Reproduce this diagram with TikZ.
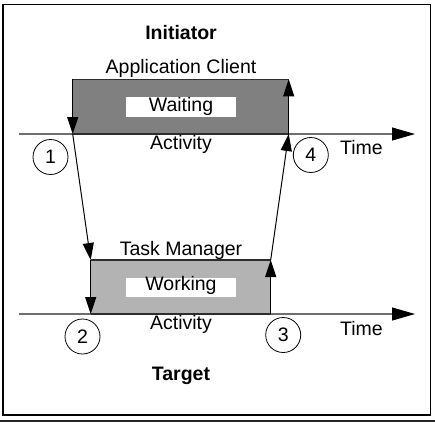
\documentclass[tikz,border=0pt]{standalone}
\usepackage{fontspec}
\setmainfont{Liberation Sans}
\usetikzlibrary{arrows.meta}
\definecolor{darkfill}{RGB}{128,128,128}
\definecolor{lightfill}{RGB}{179,179,179}
\definecolor{axisgray}{RGB}{110,110,110}
\definecolor{edgegray}{RGB}{45,45,45}
\tikzset{
  lbl/.style={inner sep=0pt, anchor=base, font=\fontsize{19.5bp}{23bp}\selectfont},
  blbl/.style={lbl, font=\fontsize{19.5bp}{23bp}\selectfont\bfseries},
  num/.style={circle, draw=black, line width=0.8bp, minimum size=35bp, inner sep=0pt, font=\fontsize{19.5bp}{23bp}\selectfont},
  flow/.style={draw=black, line width=1bp, -{Triangle[length=17bp,width=11bp]}},
  axisline/.style={draw=axisgray, line width=1.1bp, -{Triangle[length=23bp,width=13bp,color=black,fill=black]}},
  boxedge/.style={draw=edgegray, line width=1.6bp},
  whitebar/.style={fill=white, draw=none},
}
\begin{document}
\begin{tikzpicture}[x=1bp,y=-1bp]
\useasboundingbox (0,0) rectangle (435,422);
% frame
\draw[line width=1.4bp] (3,4.5) rectangle (430.5,415);
\draw[line width=2bp, draw=black!85] (0,421) -- (435,421);
% corners
\coordinate (A1) at (72.7,79.3);
\coordinate (A2) at (288.7,79.3);
\coordinate (A3) at (72.7,134);
\coordinate (A4) at (288.7,134);
\coordinate (B1) at (90.7,260);
\coordinate (B2) at (270.7,260);
\coordinate (B3) at (90.7,314);
\coordinate (B4) at (270.7,314);
\coordinate (L1) at (19,134);
\coordinate (R1) at (415,134);
\coordinate (L2) at (19,314);
\coordinate (R2) at (415,314);
% boxes
\fill[darkfill] (A1) rectangle (A4);
\fill[lightfill] (B1) rectangle (B4);
\fill[whitebar] (126,97) rectangle (236,117);
\fill[whitebar] (126,277.5) rectangle (236,297);
% axes
\draw[axisline] (L1) -- (R1);
\draw[axisline] (L2) -- (R2);
% box edges
\draw[boxedge] (A1) -- (A2);
\draw[boxedge] (A3) -- (A4);
\draw[boxedge] (B1) -- (B2);
\draw[boxedge] (B3) -- (B4);
% flow arrows
\draw[flow] (A1) -- (A3);
\draw[flow] (A3) -- (B1);
\draw[flow] (B1) -- (B3);
\draw[flow] (B4) -- (B2);
\draw[flow] (B2) -- (A4);
\draw[flow] (A4) -- (A2);
% labels
\node[blbl] (init) at (181,39.5) {Initiator};
\node[lbl] (app) at (181,73) {Application Client};
\node[lbl] (wait) at (181,111) {Waiting};
\node[lbl] (act1) at (181,149) {Activity};
\node[lbl, anchor=base west] (time1) at (340,154.3) {Time};
\node[lbl] (task) at (181,255) {Task Manager};
\node[lbl] (work) at (181,290.7) {Working};
\node[lbl] (act2) at (181,329) {Activity};
\node[lbl, anchor=base west] (time2) at (340,335) {Time};
\node[blbl] (target) at (181,380.7) {Target};
% step numbers
\node[num] (n1) at (50.5,157) {1};
\node[num] (n4) at (310.8,155) {4};
\node[num] (n2) at (82.5,336.5) {2};
\node[num] (n3) at (283.2,335) {3};
\end{tikzpicture}
\end{document}
